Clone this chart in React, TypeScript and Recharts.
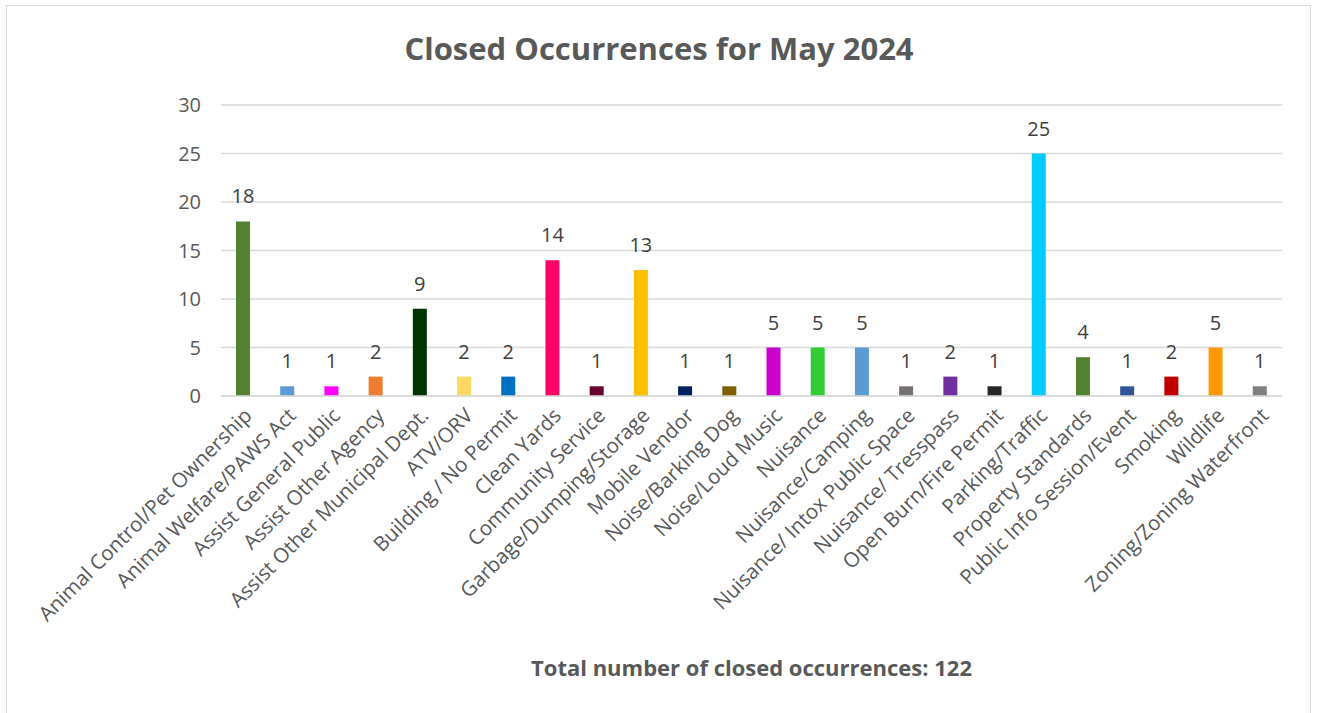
import { BarChart, Bar, XAxis, YAxis, CartesianGrid, Cell, LabelList } from "recharts";

const categories = [
    "Animal Control/Pet Ownership",
    "Animal Welfare/PAWS Act",
    "Assist General Public",
    "Assist Other Agency",
    "Assist Other Municipal Dept.",
    "ATV/ORV",
    "Building / No Permit",
    "Clean Yards",
    "Community Service",
    "Garbage/Dumping/Storage",
    "Mobile Vendor",
    "Noise/Barking Dog",
    "Noise/Loud Music",
    "Nuisance",
    "Nuisance/Camping",
    "Nuisance/ Intox Public Space",
    "Nuisance/ Tresspass",
    "Open Burn/Fire Permit",
    "Parking/Traffic",
    "Property Standards",
    "Public Info Session/Event",
    "Smoking",
    "Wildlife",
    "Zoning/Zoning Waterfront",
];

const counts = [18, 1, 1, 2, 9, 2, 2, 14, 1, 13, 1, 1, 5, 5, 5, 1, 2, 1, 25, 4, 1, 2, 5, 1];

const barColors = [
    "#548235", "#5B9BD5", "#FF00FF", "#ED7D31", "#003300", "#FFD966", "#0070C0", "#FF0066",
    "#660033", "#FFC000", "#002060", "#7F6000", "#CC00CC", "#33CC33", "#5B9BD5", "#767171",
    "#7030A0", "#262626", "#00CCFF", "#548235", "#2F5597", "#C00000", "#FF9900", "#808080",
];

const yTicks = [0, 5, 10, 15, 20, 25, 30];

const data = categories.map((name, i) => ({ name, value: counts[i] }));

const FONT = "'Open Sans', sans-serif";
const TEXT = "#595959";

function SlantTick({ x, y, payload }: any) {
    return (
        <g transform={`translate(${x},${y + 3})`}>
            <text textAnchor="end" transform="rotate(-45)" dy={14} fill={TEXT} fontSize={20.5} fontFamily={FONT}>
                {payload.value}
            </text>
        </g>
    );
}

export default function App() {
    return (
        <div style={{ position: "fixed", left: 0, top: 0, width: 1320, height: 713, overflow: "hidden", background: "#fff" }}>
            <div style={{ position: "absolute", left: 6, top: 5, width: 1305, height: 740, border: "1px solid #D9D9D9", boxSizing: "border-box" }} />
            <div
                style={{
                    position: "absolute", left: 0, top: 27, width: 1318, textAlign: "center",
                    fontFamily: FONT, fontWeight: 700, fontSize: 31, color: TEXT,
                }}
            >
                Closed Occurrences for May 2024
            </div>
            <div style={{ position: "absolute", left: 6, top: 5 }}>
                <BarChart width={1306} height={708} data={data} margin={{ top: 100, right: 30, bottom: 0, left: 0 }}>
                    <CartesianGrid vertical={false} stroke="#D9D9D9" strokeWidth={1.5} />
                    <XAxis
                        dataKey="name"
                        interval={0}
                        height={317}
                        tick={<SlantTick />}
                        tickLine={false}
                        axisLine={{ stroke: "#D9D9D9", strokeWidth: 1.5 }}
                        label={{
                            value: "Total number of closed occurrences: 122",
                            position: "insideBottom",
                            offset: 37,
                            fill: TEXT,
                            fontSize: 22,
                            fontWeight: 700,
                            fontFamily: FONT,
                        }}
                    />
                    <YAxis
                        width={215}
                        domain={[0, 30]}
                        ticks={yTicks}
                        interval={0}
                        tickLine={false}
                        axisLine={false}
                        tickMargin={14}
                        tick={{ fill: TEXT, fontSize: 20, fontFamily: FONT }}
                    />
                    <Bar dataKey="value" barSize={14} isAnimationActive={false}>
                        {data.map((_, i) => (
                            <Cell key={i} fill={barColors[i]} />
                        ))}
                        <LabelList dataKey="value" position="top" offset={18} fill="#404040" fontSize={20} fontFamily={FONT} />
                    </Bar>
                </BarChart>
            </div>
        </div>
    );
}
